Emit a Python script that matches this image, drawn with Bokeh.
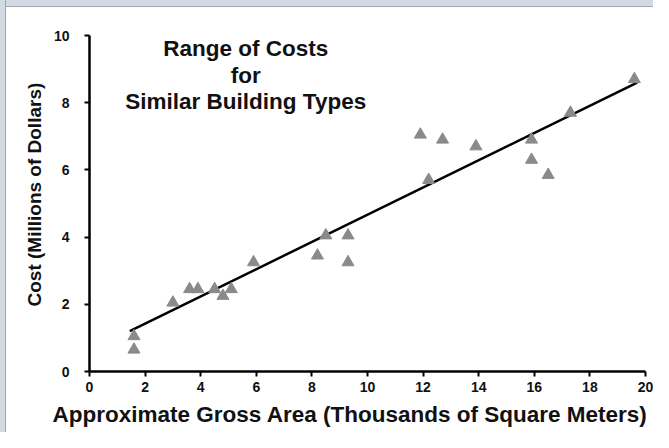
import math
from bokeh.plotting import figure
from bokeh.models import Range1d, Label, ColumnDataSource, FixedTicker, Title
from bokeh.embed import file_html
from bokeh.resources import INLINE

# ---- data ----
area = [1.6, 1.6, 3.0, 3.6, 3.9, 4.5, 4.8, 5.1, 5.9, 8.2, 8.5, 9.3, 9.3,
        11.9, 12.2, 12.7, 13.9, 15.9, 15.9, 16.5, 17.3, 19.6]
cost = [1.05, 0.65, 2.05, 2.45, 2.45, 2.45, 2.25, 2.45, 3.25, 3.45, 4.05, 4.05, 3.25,
        7.05, 5.7, 6.9, 6.7, 6.9, 6.3, 5.85, 7.7, 8.7]
fit_x = [1.45, 19.7]
fit_y = [1.2, 8.6]
x_ticks = [0, 2, 4, 6, 8, 10, 12, 14, 16, 18, 20]
y_ticks = [0, 2, 4, 6, 8, 10]
title_lines = ["Range of Costs", "for", "Similar Building Types"]
x_title = "Approximate Gross Area (Thousands of Square Meters)"
y_title = "Cost (Millions of Dollars)"

FONT = "Liberation Sans"

p = figure(width=653, height=432, output_backend="svg", toolbar_location=None,
           x_range=Range1d(0, 20), y_range=Range1d(0, 10),
           min_border_left=89, min_border_right=8, min_border_top=35, min_border_bottom=60)
# light blue-grey frame strip (top / left) with a thin grey edge, white panel elsewhere
p.styles = {"background": (
    "linear-gradient(to right, #d3dae4 0px, #d3dae4 5px, #a3a8b0 5px, #a3a8b0 6px, rgba(255,255,255,0) 6px), "
    "linear-gradient(to bottom, #d3dae4 0px, #d3dae4 6px, #a3a8b0 6px, #a3a8b0 7px, #ffffff 7px)")}
p.background_fill_color = "white"
p.border_fill_color = None
p.outline_line_color = None
p.xgrid.visible = False
p.ygrid.visible = False

for ax in (p.xaxis[0], p.yaxis[0]):
    ax.axis_line_color = "black"
    ax.axis_line_width = 2.5
    ax.major_tick_line_color = "black"
    ax.major_tick_line_width = 2
    ax.major_tick_in = 0
    ax.major_tick_out = 5
    ax.minor_tick_line_color = None
    ax.major_label_text_font = FONT
    ax.major_label_text_font_style = "bold"
    ax.major_label_text_font_size = "14px"
    ax.major_label_text_color = "#111111"

p.xaxis.ticker = FixedTicker(ticks=x_ticks)
p.yaxis.ticker = FixedTicker(ticks=y_ticks)
p.xaxis.major_label_standoff = 5
p.yaxis.major_label_standoff = 15

src = ColumnDataSource(dict(x=area, y=cost))
p.line(fit_x, fit_y, line_color="black", line_width=2.5)
p.scatter("x", "y", source=src, marker="triangle", size=12,
          fill_color="#8a8a8a", line_color="#8a8a8a")

# chart title (three centred lines inside the plot)
title_y = [9.62, 8.82, 8.04]
for t, ty in zip(title_lines, title_y):
    p.add_layout(Label(x=5.62, y=ty, text=t, text_align="center", text_baseline="middle",
                       text_font=FONT, text_font_style="bold", text_font_size="22.5px",
                       text_color="#111111"))

# axis titles as side titles so they can be placed freely
p.add_layout(Title(text=x_title, align="left", offset=-37, standoff=11, vertical_align="bottom",
                   text_font=FONT, text_font_style="bold", text_font_size="22.5px",
                   text_color="#111111"), "below")
p.add_layout(Title(text=y_title, align="left", offset=65, standoff=12,
                   text_font=FONT, text_font_style="bold", text_font_size="19px",
                   text_color="#111111"), "left")

open("out.html", "w").write(file_html(p, INLINE))
